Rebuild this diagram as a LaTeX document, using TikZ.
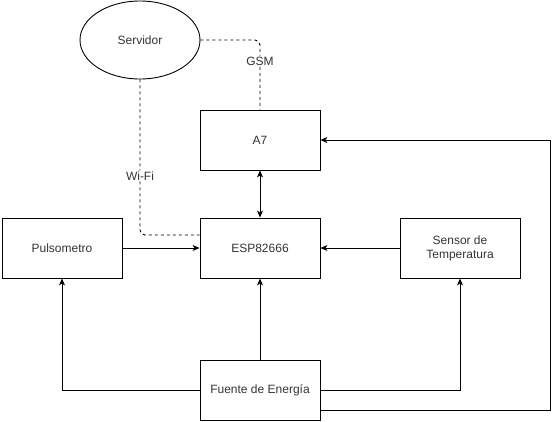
\documentclass[tikz,border=0pt]{standalone}
\usepackage{fontspec}
\setmainfont{Liberation Sans}
\usetikzlibrary{arrows.meta,shapes.geometric}
\begin{document}
\begin{tikzpicture}[x=1pt,y=-1pt,
  box/.style={draw,line width=0.9pt,minimum width=120pt,minimum height=60pt,inner sep=0pt,align=center,font=\fontsize{12}{14}\selectfont,text=black!80},
  conn/.style={line width=0.9pt,-{Stealth[length=7pt,width=6pt,inset=2pt]}},
  dconn/.style={line width=0.9pt,dashed,dash pattern=on 3pt off 3pt,rounded corners=5pt},
  lbl/.style={fill=white,inner sep=1pt,font=\fontsize{12}{14}\selectfont,text=black!80}]
\useasboundingbox (0,0) rectangle (559,421);
\node[draw,ellipse,line width=0.9pt,minimum width=120pt,minimum height=78pt,inner sep=0pt,font=\fontsize{12}{14}\selectfont,text=black!80] (srv) at (140,40) {Servidor};
\node[box] (a7) at (260,140) {A7};
\node[box] (esp) at (260,248) {ESP82666};
\node[box] (pul) at (62,248) {Pulsometro};
\node[box] (sen) at (460,248) {Sensor de\\Temperatura};
\node[box] (fue) at (260,390) {Fuente de Energía};
\coordinate (c1) at (550,410);
\coordinate (c2) at (550,140);
\draw[dconn] (srv.east) -- (260,40) -- node[lbl,pos=0.3]{GSM} (a7.north);
\draw[dconn] (srv.south) -- node[lbl,pos=0.62]{Wi-Fi} (140,235) -- (esp.west |- 0,235);
\draw[line width=0.9pt,{Stealth[length=7pt,width=6pt,inset=2pt]}-{Stealth[length=7pt,width=6pt,inset=2pt]}] (a7.south) -- (esp.north);
\draw[conn] (pul.east) -- (esp.west);
\draw[conn] (sen.west) -- (esp.east);
\draw[conn] (fue.north) -- (esp.south);
\draw[conn] (fue.west) -| (pul.south);
\draw[conn] (fue.east) -| (sen.south);
\draw[conn] (fue.east |- c1) -- (c1) -- (c2) -- (a7.east);
\end{tikzpicture}
\end{document}
